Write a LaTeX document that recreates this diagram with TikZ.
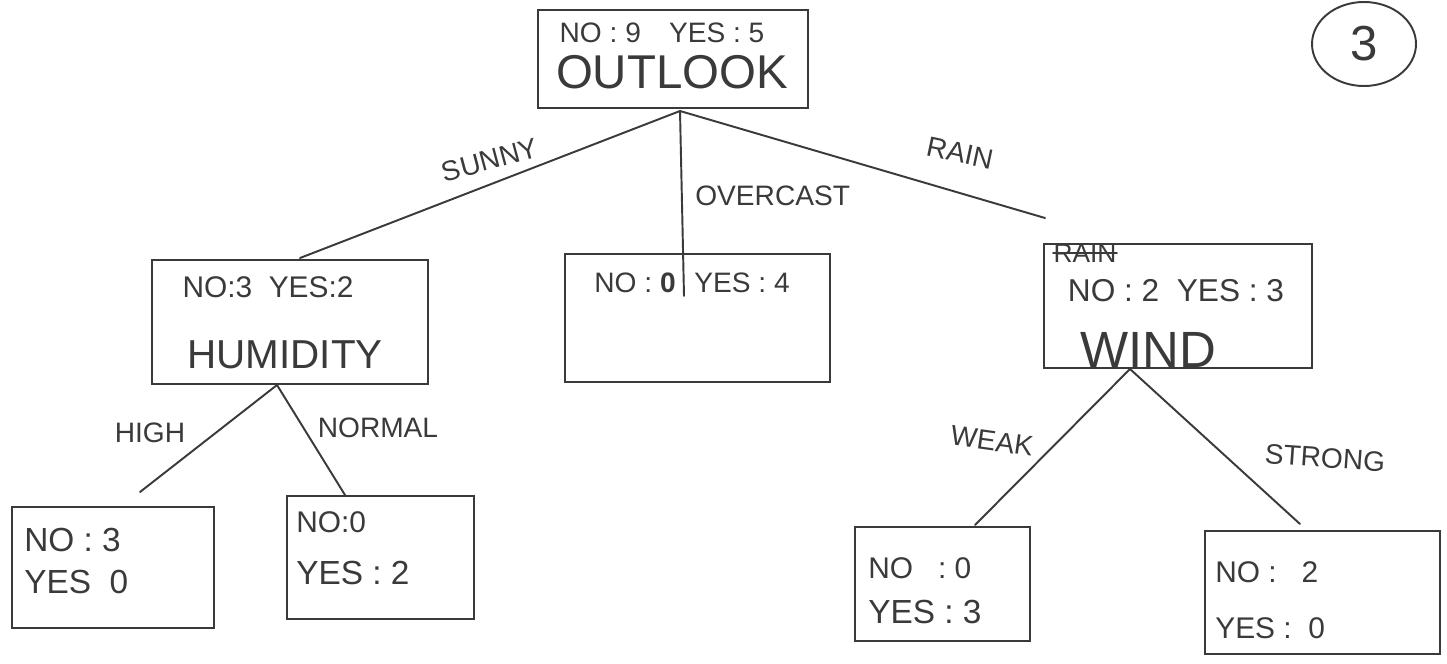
\documentclass[tikz,border=0pt]{standalone}
\usepackage{fontspec}
\setmainfont{Liberation Sans}
\usetikzlibrary{fit,shapes.geometric}
\definecolor{inkc}{HTML}{3A3A3A}
\begin{document}
\begin{tikzpicture}[x=0.02cm,y=-0.02cm,
  ink/.style={draw=inkc, line width=1.1pt, line cap=round},
  box/.style={draw=inkc, line width=1.1pt, rectangle, inner sep=0pt},
  txt/.style={text=inkc, inner sep=0pt, font=\fontsize{#1}{#1}\selectfont},
  lbl/.style={text=inkc, inner sep=0pt, font=\fontsize{16}{16}\selectfont}]
\fill[white] (0,0) rectangle (1447,663);
\useasboundingbox (0,0) rectangle (1447,663);

% boxes
\node[box, fit={(538,10) (808,108)}] (root) {};
\node[box, fit={(152,260) (428,384)}] (hum) {};
\node[box, fit={(565,254) (830,382)}] (ovc) {};
\node[box, fit={(1044,244) (1312,368)}] (wind) {};
\node[box, fit={(12,507) (214,628)}] (l1) {};
\node[box, fit={(287,496) (474,619)}] (l2) {};
\node[box, fit={(855,527) (1030,641)}] (l3) {};
\node[box, fit={(1205,531) (1440,654)}] (l4) {};
\node[draw=inkc, line width=1.1pt, ellipse, minimum width=104*0.02cm, minimum height=84*0.02cm, txt=28] (pg) at (1364,44) {3};

% texts
\node[txt=16] (rootc) at (662,33) {NO : 9\quad YES : 5};
\node[txt=27] (roott) at (672,72) {OUTLOOK};
\node[txt=17] (humc) at (268,287) {NO:3\ \ YES:2};
\node[txt=23] (humt) at (285,355) {HUMIDITY};
\node[txt=16, anchor=east] (ovcn) at (676,283) {NO : \textbf{0}};
\node[txt=16, anchor=west] (ovcy) at (694,283) {YES : 4};
\node[txt=15] (rainx) at (1085,253) {RAIN};
\draw[ink] (rainx.west) -- (rainx.east);
\node[txt=18] (windc) at (1176,291) {NO : 2\ \ YES : 3};
\node[txt=29] (windt) at (1148,350) {WIND};
\node[txt=19, anchor=west] (l1a) at (24,540) {NO : 3};
\node[txt=19, anchor=west] (l1b) at (24,582) {YES\ \ 0};
\node[txt=17, anchor=west] (l2a) at (296,522) {NO:0};
\node[txt=19, anchor=west] (l2b) at (296,573) {YES : 2};
\node[txt=17, anchor=west] (l3a) at (868,568) {NO\ \ \ : 0};
\node[txt=19, anchor=west] (l3b) at (868,612) {YES : 3};
\node[txt=17, anchor=west] (l4a) at (1215,572) {NO :\ \ \ 2};
\node[txt=17, anchor=west] (l4b) at (1215,628) {YES :\ \ 0};

% connector points
\coordinate (rootb) at (680,111);
\coordinate (ovcin) at (684,296);
\coordinate (windend) at (1045,218);
\coordinate (humend) at (300,258);
\coordinate (humb) at (277,385);
\coordinate (l1t) at (140,492);
\coordinate (l2t) at (345,495);
\coordinate (windb) at (1130,369);
\coordinate (l3t) at (975,525);
\coordinate (l4t) at (1300,524);

\draw[ink] (rootb) -- (humend);
\draw[ink] (rootb) -- (ovcin);
\draw[ink] (rootb) -- (windend);
\draw[ink] (humb) -- (l1t);
\draw[ink] (humb) -- (l2t);
\draw[ink] (windb) -- (l3t);
\draw[ink] (windb) -- (l4t);

% edge labels
\node[lbl, rotate=15] (sunny) at (490,160) {SUNNY};
\node[lbl, anchor=west] (overcast) at (695,196) {OVERCAST};
\node[lbl, rotate=-12] (rain) at (960,153) {RAIN};
\node[lbl] (high) at (150,433) {HIGH};
\node[lbl] (normal) at (378,428) {NORMAL};
\node[lbl, rotate=-8] (weak) at (992,441) {WEAK};
\node[lbl, rotate=-4] (strong) at (1325,458) {STRONG};
\end{tikzpicture}
\end{document}
